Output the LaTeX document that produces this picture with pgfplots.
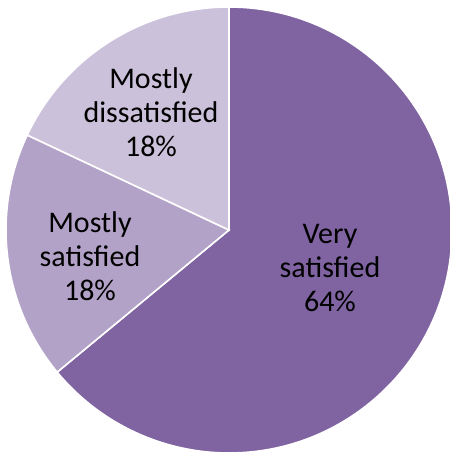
\documentclass[border=0pt]{standalone}
\usepackage{pgfplots}
\pgfplotsset{compat=1.18}
\usepackage{fontspec}
\setmainfont{Carlito}
\definecolor{cA}{HTML}{8064A2}
\definecolor{cB}{HTML}{B3A2C7}
\definecolor{cC}{HTML}{CCC1DA}
\begin{document}
\begin{tikzpicture}
\begin{axis}[
  hide axis, scale only axis,
  x=0.5pt, y=0.5pt,
  xmin=0, xmax=450, ymin=0, ymax=456,
  clip=false, anchor=south west, at={(0,0)},
]
% pie data: Very satisfied 64, Mostly satisfied 18, Mostly dissatisfied 18
\addplot[draw=none, forget plot] coordinates {(0,0) (450,456)};
\def\cx{229}\def\cy{226}\def\r{111.5pt}
\pgfmathsetmacro{\aA}{90}
\pgfmathsetmacro{\aB}{90-64*3.6}
\pgfmathsetmacro{\aC}{\aB-18*3.6}
\pgfmathsetmacro{\aD}{\aC-18*3.6}
\fill[cA, draw=white, line width=0.8pt] (axis cs:\cx,\cy) -- ++(\aA:\r) arc[start angle=\aA, end angle=\aB, radius=\r] -- cycle;
\fill[cB, draw=white, line width=0.8pt] (axis cs:\cx,\cy) -- ++(\aB:\r) arc[start angle=\aB, end angle=\aC, radius=\r] -- cycle;
\fill[cC, draw=white, line width=0.8pt] (axis cs:\cx,\cy) -- ++(\aC:\r) arc[start angle=\aC, end angle=\aD, radius=\r] -- cycle;
\node[align=center, font=\fontsize{15}{17}\selectfont, text=black] at (axis cs:330,188) {Very\\satisfied\\64\%};
\node[align=center, font=\fontsize{15}{17}\selectfont, text=black] at (axis cs:90,200) {Mostly\\satisfied\\18\%};
\node[align=center, font=\fontsize{15}{17}\selectfont, text=black] at (axis cs:151,344) {Mostly\\dissatisfied\\18\%};
\end{axis}
\pgfresetboundingbox
\useasboundingbox (0,0) rectangle (225pt,228pt);
\end{tikzpicture}
\end{document}
